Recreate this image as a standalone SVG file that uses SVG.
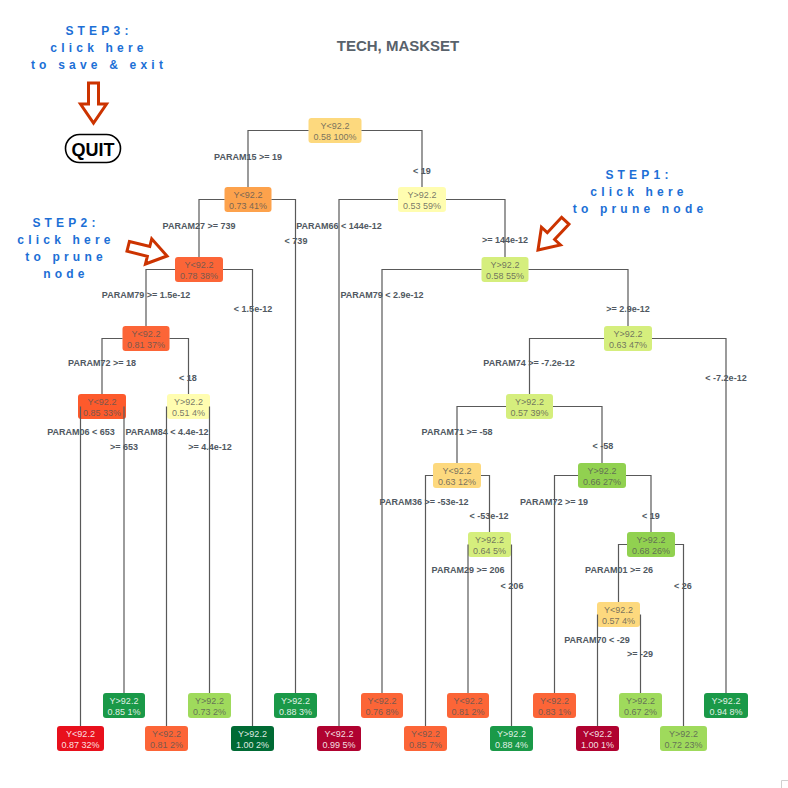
<svg xmlns="http://www.w3.org/2000/svg" width="788" height="788" viewBox="0 0 788 788">
<style>
.bg{fill:#ffffff}
.edge{fill:none;stroke:#595959;stroke-width:1.2}
.lbl{font-family:"Liberation Sans",Arial,sans-serif;font-size:9px;font-weight:bold;fill:#505861;text-anchor:middle}
.nt{font-family:"Liberation Sans",Arial,sans-serif;font-size:9px;text-anchor:middle}
.dk{fill:#555555;fill-opacity:0.8}
.lt{fill:#ffffff;fill-opacity:0.88}
.title{font-family:"Liberation Sans",Arial,sans-serif;font-size:15px;font-weight:bold;fill:#58626b;text-anchor:middle}
.step{font-family:"Liberation Sans",Arial,sans-serif;font-size:12px;font-weight:bold;fill:#1c6fd6;letter-spacing:4.2px;text-anchor:middle}
.arrow{fill:#ffffff;stroke:#cc3300;stroke-width:3;stroke-linejoin:miter}
</style>
<defs>
<polygon id="arr" points="-40,-5 -19,-5 -19,-13 0,0 -19,13 -19,5 -40,5"/>
</defs>
<rect class="bg" x="0" y="0" width="788" height="788"/>
<text class="title" x="398" y="50.5">TECH, MASKSET</text>

<g id="step3">
<text class="step" x="99" y="35">STEP3:</text>
<text class="step" x="99" y="52">click here</text>
<text class="step" x="99" y="69">to save &amp; exit</text>
<use href="#arr" class="arrow" transform="translate(93.5,123) rotate(90)"/>
</g>
<g id="quit">
<rect x="65.5" y="134.5" width="55" height="28" rx="14" fill="#ffffff" stroke="#000000" stroke-width="1.6"/>
<text x="93" y="155.5" font-family="Liberation Sans, Arial, sans-serif" font-size="18" font-weight="bold" text-anchor="middle" fill="#000000">QUIT</text>
</g>
<g id="step1">
<text class="step" x="639" y="179">STEP1:</text>
<text class="step" x="639" y="196">click here</text>
<text class="step" x="640" y="213">to prune node</text>
<use href="#arr" class="arrow" transform="translate(538,250) rotate(133)"/>
</g>
<g id="step2">
<text class="step" x="66" y="227">STEP2:</text>
<text class="step" x="66" y="244">click here</text>
<text class="step" x="66" y="261">to prune</text>
<text class="step" x="66" y="278">node</text>
<use href="#arr" class="arrow" transform="translate(167,256) rotate(14)"/>
</g>

<g id="n1"><rect x="308.5" y="118" width="53" height="25" rx="3" fill="#FDD97E"/><text class="nt dk" x="335" y="128.5">Y&lt;92.2</text><text class="nt dk" x="335" y="139.5">0.58 100%</text></g>
<g id="n2"><rect x="224.5" y="187" width="47" height="25" rx="3" fill="#FDA24C"/><text class="nt dk" x="248" y="197.5">Y&lt;92.2</text><text class="nt dk" x="248" y="208.5">0.73 41%</text></g>
<g id="n3"><rect x="398" y="187" width="48" height="25" rx="3" fill="#FFFDB0"/><text class="nt dk" x="422" y="197.5">Y&gt;92.2</text><text class="nt dk" x="422" y="208.5">0.53 59%</text></g>
<g id="n4"><rect x="175" y="257" width="48" height="25" rx="3" fill="#FC6537"/><text class="nt dk" x="199" y="267.5">Y&lt;92.2</text><text class="nt dk" x="199" y="278.5">0.78 38%</text></g>
<g id="n7"><rect x="481.5" y="257" width="47" height="25" rx="3" fill="#D5EE7D"/><text class="nt dk" x="505" y="267.5">Y&gt;92.2</text><text class="nt dk" x="505" y="278.5">0.58 55%</text></g>
<g id="n8"><rect x="122.5" y="326" width="47" height="25" rx="3" fill="#FC6537"/><text class="nt dk" x="146" y="336.5">Y&lt;92.2</text><text class="nt dk" x="146" y="347.5">0.81 37%</text></g>
<g id="n15"><rect x="604" y="326" width="48" height="25" rx="3" fill="#D5EE7D"/><text class="nt dk" x="628" y="336.5">Y&gt;92.2</text><text class="nt dk" x="628" y="347.5">0.63 47%</text></g>
<g id="n16"><rect x="78" y="394" width="48" height="25" rx="3" fill="#FD5A2C"/><text class="nt dk" x="102" y="404.5">Y&lt;92.2</text><text class="nt dk" x="102" y="415.5">0.85 33%</text></g>
<g id="n17"><rect x="167" y="394" width="43" height="25" rx="3" fill="#FFFDB0"/><text class="nt dk" x="188.5" y="404.5">Y&gt;92.2</text><text class="nt dk" x="188.5" y="415.5">0.51 4%</text></g>
<g id="n30"><rect x="506" y="394" width="47" height="25" rx="3" fill="#D5EE7D"/><text class="nt dk" x="529.5" y="404.5">Y&gt;92.2</text><text class="nt dk" x="529.5" y="415.5">0.57 39%</text></g>
<g id="n60"><rect x="433" y="463" width="48" height="25" rx="3" fill="#FDD97E"/><text class="nt dk" x="457" y="473.5">Y&lt;92.2</text><text class="nt dk" x="457" y="484.5">0.63 12%</text></g>
<g id="n61"><rect x="578" y="463" width="48" height="25" rx="3" fill="#91D150"/><text class="nt dk" x="602" y="473.5">Y&gt;92.2</text><text class="nt dk" x="602" y="484.5">0.66 27%</text></g>
<g id="n121"><rect x="468" y="532" width="43" height="25" rx="3" fill="#D5EE7D"/><text class="nt dk" x="489.5" y="542.5">Y&gt;92.2</text><text class="nt dk" x="489.5" y="553.5">0.64 5%</text></g>
<g id="n123"><rect x="627" y="532" width="48" height="25" rx="3" fill="#91D150"/><text class="nt dk" x="651" y="542.5">Y&gt;92.2</text><text class="nt dk" x="651" y="553.5">0.68 26%</text></g>
<g id="n246"><rect x="597" y="602" width="43" height="25" rx="3" fill="#FDD97E"/><text class="nt dk" x="618.5" y="612.5">Y&lt;92.2</text><text class="nt dk" x="618.5" y="623.5">0.57 4%</text></g>

<g id="n32"><rect x="57" y="726" width="47" height="25" rx="3" fill="#E8101C"/><text class="nt lt" x="80.5" y="736.5">Y&lt;92.2</text><text class="nt lt" x="80.5" y="747.5">0.87 32%</text></g>
<g id="n33"><rect x="103" y="693" width="42" height="25" rx="3" fill="#1A9948"/><text class="nt lt" x="124" y="703.5">Y&gt;92.2</text><text class="nt lt" x="124" y="714.5">0.85 1%</text></g>
<g id="n34"><rect x="145" y="726" width="43" height="25" rx="3" fill="#FC6537"/><text class="nt dk" x="166.5" y="736.5">Y&lt;92.2</text><text class="nt dk" x="166.5" y="747.5">0.81 2%</text></g>
<g id="n35"><rect x="188" y="693" width="43" height="25" rx="3" fill="#9FDA5C"/><text class="nt dk" x="209.5" y="703.5">Y&gt;92.2</text><text class="nt dk" x="209.5" y="714.5">0.73 2%</text></g>
<g id="n9"><rect x="231" y="726" width="43" height="25" rx="3" fill="#006A34"/><text class="nt lt" x="252.5" y="736.5">Y&gt;92.2</text><text class="nt lt" x="252.5" y="747.5">1.00 2%</text></g>
<g id="n5"><rect x="274" y="693" width="43" height="25" rx="3" fill="#1A9948"/><text class="nt lt" x="295.5" y="703.5">Y&gt;92.2</text><text class="nt lt" x="295.5" y="714.5">0.88 3%</text></g>
<g id="n6"><rect x="317" y="726" width="44" height="25" rx="3" fill="#B00230"/><text class="nt lt" x="339" y="736.5">Y&lt;92.2</text><text class="nt lt" x="339" y="747.5">0.99 5%</text></g>
<g id="n14"><rect x="361" y="693" width="42" height="25" rx="3" fill="#FC6537"/><text class="nt dk" x="382" y="703.5">Y&lt;92.2</text><text class="nt dk" x="382" y="714.5">0.76 8%</text></g>
<g id="n120"><rect x="404" y="726" width="43" height="25" rx="3" fill="#FC6537"/><text class="nt dk" x="425.5" y="736.5">Y&lt;92.2</text><text class="nt dk" x="425.5" y="747.5">0.85 7%</text></g>
<g id="n242"><rect x="447" y="693" width="42" height="25" rx="3" fill="#FC6537"/><text class="nt dk" x="468" y="703.5">Y&lt;92.2</text><text class="nt dk" x="468" y="714.5">0.81 2%</text></g>
<g id="n243"><rect x="490" y="726" width="43" height="25" rx="3" fill="#1A9948"/><text class="nt lt" x="511.5" y="736.5">Y&gt;92.2</text><text class="nt lt" x="511.5" y="747.5">0.88 4%</text></g>
<g id="n122"><rect x="533" y="693" width="43" height="25" rx="3" fill="#FC6537"/><text class="nt dk" x="554.5" y="703.5">Y&lt;92.2</text><text class="nt dk" x="554.5" y="714.5">0.83 1%</text></g>
<g id="n492"><rect x="576" y="726" width="43" height="25" rx="3" fill="#B00230"/><text class="nt lt" x="597.5" y="736.5">Y&lt;92.2</text><text class="nt lt" x="597.5" y="747.5">1.00 1%</text></g>
<g id="n493"><rect x="619" y="693" width="43" height="25" rx="3" fill="#9FDA5C"/><text class="nt dk" x="640.5" y="703.5">Y&gt;92.2</text><text class="nt dk" x="640.5" y="714.5">0.67 2%</text></g>
<g id="n247"><rect x="660" y="726" width="47" height="25" rx="3" fill="#9FDA5C"/><text class="nt dk" x="683.5" y="736.5">Y&gt;92.2</text><text class="nt dk" x="683.5" y="747.5">0.72 23%</text></g>
<g id="n31"><rect x="704" y="693" width="44" height="25" rx="3" fill="#1A9948"/><text class="nt lt" x="726" y="703.5">Y&gt;92.2</text><text class="nt lt" x="726" y="714.5">0.94 8%</text></g>

<g id="connectors">
<path class="edge" d="M308.5,130.5 H248 V187"/>
<path class="edge" d="M361.5,130.5 H422 V187"/>
<path class="edge" d="M224.5,199.5 H199 V257"/>
<path class="edge" d="M271.5,199.5 H295.5 V693"/>
<path class="edge" d="M398,199.5 H339 V726"/>
<path class="edge" d="M446,199.5 H505 V257"/>
<path class="edge" d="M175,269.5 H146 V326"/>
<path class="edge" d="M223,269.5 H252.5 V726"/>
<path class="edge" d="M481.5,269.5 H382 V693"/>
<path class="edge" d="M528.5,269.5 H628 V326"/>
<path class="edge" d="M122.5,338.5 H102 V394"/>
<path class="edge" d="M169.5,338.5 H188.5 V394"/>
<path class="edge" d="M604,338.5 H529.5 V394"/>
<path class="edge" d="M652,338.5 H726 V693"/>
<path class="edge" d="M80.5,406.5 V726"/>
<path class="edge" d="M124,406.5 V693"/>
<path class="edge" d="M166.5,406.5 V726"/>
<path class="edge" d="M209.5,406.5 V693"/>
<path class="edge" d="M506,406.5 H457 V463"/>
<path class="edge" d="M553,406.5 H602 V463"/>
<path class="edge" d="M433,475.5 H425.5 V726"/>
<path class="edge" d="M481,475.5 H489.5 V532"/>
<path class="edge" d="M578,475.5 H554.5 V693"/>
<path class="edge" d="M626,475.5 H651 V532"/>
<path class="edge" d="M468,544.5 V693"/>
<path class="edge" d="M511.5,544.5 V726"/>
<path class="edge" d="M627,544.5 H618.5 V602"/>
<path class="edge" d="M675,544.5 H683.5 V726"/>
<path class="edge" d="M597.5,614.5 V726"/>
<path class="edge" d="M640.5,614.5 V693"/>
<text class="lbl" x="248" y="160">PARAM15 &gt;= 19</text>
<text class="lbl" x="422" y="174">&lt; 19</text>
<text class="lbl" x="199" y="229">PARAM27 &gt;= 739</text>
<text class="lbl" x="339" y="229">PARAM66 &lt; 144e-12</text>
<text class="lbl" x="296" y="244">&lt; 739</text>
<text class="lbl" x="505" y="243">&gt;= 144e-12</text>
<text class="lbl" x="146" y="298">PARAM79 &gt;= 1.5e-12</text>
<text class="lbl" x="382" y="298">PARAM79 &lt; 2.9e-12</text>
<text class="lbl" x="253" y="312">&lt; 1.5e-12</text>
<text class="lbl" x="628" y="312">&gt;= 2.9e-12</text>
<text class="lbl" x="102" y="366">PARAM72 &gt;= 18</text>
<text class="lbl" x="188" y="381">&lt; 18</text>
<text class="lbl" x="529" y="366">PARAM74 &gt;= -7.2e-12</text>
<text class="lbl" x="726" y="381">&lt; -7.2e-12</text>
<text class="lbl" x="81" y="435">PARAM06 &lt; 653</text>
<text class="lbl" x="124" y="450">&gt;= 653</text>
<text class="lbl" x="167" y="435">PARAM84 &lt; 4.4e-12</text>
<text class="lbl" x="210" y="450">&gt;= 4.4e-12</text>
<text class="lbl" x="457" y="435">PARAM71 &gt;= -58</text>
<text class="lbl" x="603" y="449">&lt; -58</text>
<text class="lbl" x="424" y="505">PARAM36 &gt;= -53e-12</text>
<text class="lbl" x="489" y="519">&lt; -53e-12</text>
<text class="lbl" x="554" y="505">PARAM72 &gt;= 19</text>
<text class="lbl" x="651" y="519">&lt; 19</text>
<text class="lbl" x="468" y="573">PARAM29 &gt;= 206</text>
<text class="lbl" x="512" y="589">&lt; 206</text>
<text class="lbl" x="619" y="573">PARAM01 &gt;= 26</text>
<text class="lbl" x="683" y="589">&lt; 26</text>
<text class="lbl" x="597" y="643">PARAM70 &lt; -29</text>
<text class="lbl" x="640" y="657">&gt;= -29</text>
</g>
<path d="M781.5,788 V780.5 H788" fill="none" stroke="#d0d0d0" stroke-width="1"/>
</svg>
